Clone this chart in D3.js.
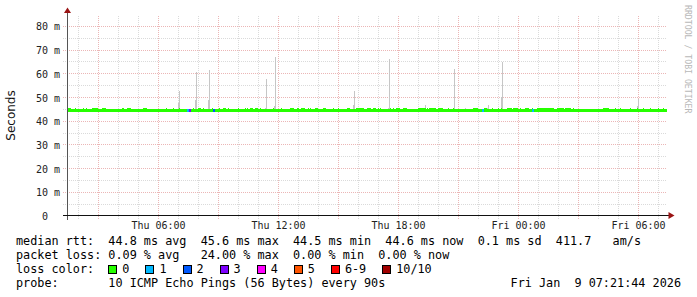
<!DOCTYPE html>
<meta charset="utf-8">
<script src="https://d3js.org/d3.v7.min.js"></script>
<style>
  body { margin: 0; background: #fff; }
  text { font-family: "DejaVu Sans Mono", monospace; white-space: pre; }
</style>
<div id="chart"></div>
<script>

// time is counted in hours from Thu 8 Jan 2026 00:00 (values above 24 are Friday)
var startHour = 1.45, endHour = 31.45, lastSample = 31.4;

// median rtt (ms), and the stretches where it sits one step higher
var medianBase = 44.6;
var medianUp = 45.0;
var upFrom = [1.45, 1.85, 2.25, 2.4, 2.7, 3.2, 4.2, 4.45, 5.25, 6.4, 6.75, 7.05, 7.75, 8.0, 8.25, 8.7, 9.05, 9.25, 9.5, 10.0,
  10.35, 10.45, 10.6, 10.85, 11.1, 11.75, 12.15, 12.6, 12.95, 13.15, 13.5, 13.6, 13.85, 14.25, 14.75, 15.0, 15.45, 15.9, 16.45, 16.75,
  17.0, 17.1, 17.6, 17.75, 17.9, 18.25, 19.0, 19.45, 19.55, 20.0, 20.5, 20.75, 21.75, 22.3, 22.7, 23.0, 23.15, 23.45, 23.75, 24.1,
  24.35, 24.7, 24.95, 25.95, 26.35, 26.75, 28.25, 28.85, 29.1, 29.6, 29.95, 30.25, 30.6, 31.0, 31.25];
var upTo = [1.6, 1.85, 2.25, 2.4, 2.95, 3.35, 4.25, 4.6, 5.4, 6.4, 6.75, 7.05, 7.75, 8.1, 8.25, 8.7, 9.05, 9.35, 9.5, 10.0,
  10.35, 10.45, 10.7, 10.95, 11.1, 11.75, 12.15, 12.75, 13.0, 13.3, 13.5, 13.6, 13.95, 14.35, 14.75, 15.0, 15.55, 16.25, 16.6, 16.85,
  17.0, 17.1, 17.6, 17.75, 18.05, 18.4, 19.35, 19.45, 19.85, 20.2, 20.5, 20.75, 21.95, 22.4, 22.7, 23.0, 23.15, 23.65, 23.95, 24.1,
  24.5, 24.7, 25.75, 26.25, 26.6, 26.75, 28.5, 28.85, 29.1, 29.6, 29.95, 30.25, 30.6, 31.0, 31.25];

// smoke spikes: time, slowest ping, top of the denser part (ms)
var spikeHour = [7.05, 7.9, 8.55, 11.4, 11.85, 15.8, 17.55, 19.35, 20.8, 21.35, 22.5, 23.2, 30.0];
var spikeMax  = [52.5, 60.5, 61.4, 57.6, 66.9, 52.5, 66.0, 46.6, 61.8, 45.3, 46.6, 64.8, 49.1];
var spikeLow  = [47.4, 48.7, 48.7, 45.5, 46.0, 46.6, 45.5, 45.5, 45.5, 45.0, 45.5, 50.0, 46.1];

// samples that lost packets
var lossHour  = [7.45, 7.55, 8.75, 22.2, 24.7];
var lossCount = [1, 3, 2, 1, 1];

var lossLabels = ["0", "1", "2", "3", "4", "5", "6-9", "10/10"];
var lossColors = ["#26ff00", "#00b8ff", "#0059ff", "#7e00ff", "#ff00ff", "#ff5500", "#ff0000", "#a10000"];

var yTicks = [0, 10, 20, 30, 40, 50, 60, 70, 80];

var legendLines = [
  "median rtt:  44.8 ms avg  45.6 ms max  44.5 ms min  44.6 ms now  0.1 ms sd  411.7   am/s",
  "packet loss: 0.09 % avg   24.00 % max  0.00 % min  0.00 % now",
  "loss color:",
  "probe:       10 ICMP Echo Pings (56 Bytes) every 90s"
];
var stamp = "Fri Jan  9 07:21:44 2026";

var W = 697, H = 297;
var plot = {left: 67, right: 667, top: 15.5, bottom: 215.5};

function hourDate(h) { return new Date(2026, 0, 8, 0, Math.round(h * 60)); }
function lossIndex(n) { return n <= 5 ? n : (n < 10 ? 6 : 7); }

var svg = d3.select("#chart").append("svg")
  .attr("width", W).attr("height", H)
  .style("display", "block");

svg.append("rect").attr("width", W).attr("height", H).attr("fill", "#fff");

var x = d3.scaleTime()
  .domain([hourDate(startHour), hourDate(endHour)])
  .range([plot.left, plot.right]);
var y = d3.scaleLinear()
  .domain([0, 84.4])
  .range([plot.bottom, plot.top]);

var px = function(h) { return Math.round(x(hourDate(h))); };
var py = function(v) { return Math.round(y(v)); };

// grid
var grid = svg.append("g").attr("shape-rendering", "crispEdges").attr("stroke-dasharray", "1,1");
var hourTicks = x.ticks(d3.timeHour.every(1));
grid.selectAll(".vg").data(hourTicks).enter().append("line")
  .attr("x1", function(d) { return Math.round(x(d)) + 0.5; })
  .attr("x2", function(d) { return Math.round(x(d)) + 0.5; })
  .attr("y1", plot.top).attr("y2", plot.bottom + 3)
  .attr("stroke", function(d) { return d.getHours() % 3 == 0 ? "#ebb6b6" : "#dadada"; });

var minorY = d3.range(5, 85, 5);
grid.selectAll(".hg").data(minorY).enter().append("line")
  .attr("x1", plot.left - 4).attr("x2", plot.right)
  .attr("y1", function(d) { return Math.round(y(d)) + 0.5; })
  .attr("y2", function(d) { return Math.round(y(d)) + 0.5; })
  .attr("stroke", function(d) { return d % 10 == 0 ? "#ebb6b6" : "#dadada"; });

// smoke
var smoke = svg.append("g").attr("shape-rendering", "crispEdges").attr("fill", "#c6c6c6");
spikeHour.forEach(function(h, i) {
  smoke.append("rect")
    .attr("x", px(h)).attr("width", 1)
    .attr("y", py(spikeMax[i])).attr("height", py(medianBase) - py(spikeMax[i]));
  smoke.append("rect")
    .attr("x", px(h) - 1).attr("width", 2)
    .attr("y", py(spikeLow[i])).attr("height", py(medianBase) - py(spikeLow[i]));
});

// median line, coloured by loss
var med = svg.append("g").attr("shape-rendering", "crispEdges");
med.append("rect")
  .attr("x", px(startHour)).attr("width", px(lastSample) - px(startHour) + 1)
  .attr("y", py(medianBase) - 1).attr("height", 3)
  .attr("fill", lossColors[0]);
upFrom.forEach(function(h, i) {
  med.append("rect")
    .attr("x", px(h)).attr("width", px(upTo[i]) - px(h) + 1)
    .attr("y", py(medianUp) - 1).attr("height", 3)
    .attr("fill", lossColors[0]);
});
lossHour.forEach(function(h, i) {
  med.append("rect")
    .attr("x", px(h)).attr("width", 2)
    .attr("y", py(medianBase) - 1).attr("height", 3)
    .attr("fill", lossColors[lossIndex(lossCount[i])]);
});

// axes
var axes = svg.append("g").attr("shape-rendering", "crispEdges");
axes.append("line").attr("x1", plot.left + 0.5).attr("x2", plot.left + 0.5)
  .attr("y1", plot.bottom + 4).attr("y2", 12).attr("stroke", "#555");
axes.append("line").attr("x1", plot.left - 4).attr("x2", 670)
  .attr("y1", plot.bottom).attr("y2", plot.bottom).attr("stroke", "#111");
svg.append("path").attr("d", "M64,13L67.5,7.5L71,13Z").attr("fill", "#9a1414");
svg.append("path").attr("d", "M668.5,212L674.5,215.5L668.5,219Z").attr("fill", "#9a1414");

// tick labels
svg.selectAll(".yl").data(yTicks).enter().append("text")
  .attr("x", 60).attr("y", function(d) { return y(d) + 4.5; })
  .attr("text-anchor", "end").attr("font-size", "10px").attr("fill", "#222")
  .text(function(d) { return d == 0 ? "0  " : d + " m"; });

var fmt = d3.timeFormat("%a %H:%M");
svg.selectAll(".xl").data(x.ticks(d3.timeHour.every(6))).enter().append("text")
  .attr("x", function(d) { return Math.round(x(d)) + 0.5; }).attr("y", 228.5)
  .attr("text-anchor", "middle").attr("font-size", "10px").attr("fill", "#222")
  .text(function(d) { return fmt(d); });

// titles
svg.append("text")
  .attr("transform", "translate(15," + ((plot.top + plot.bottom) / 2) + ") rotate(-90)")
  .attr("text-anchor", "middle")
  .style("font-family", "'DejaVu Sans', sans-serif").attr("font-size", "12px").attr("fill", "#111")
  .text("Seconds");
svg.append("text")
  .attr("transform", "translate(685,5) rotate(90)")
  .attr("font-size", "8.2px").attr("fill", "#b8b8b8")
  .text("RRDTOOL / TOBI OETIKER");

// legend
var cw = 7.1, fs = "11.8px";
svg.selectAll(".lg").data(legendLines).enter().append("text")
  .attr("x", 16).attr("y", function(d, i) { return 245 + i * 14; })
  .attr("font-size", fs).attr("fill", "#000")
  .text(function(d) { return d; });
svg.append("text").attr("x", 681).attr("y", 287).attr("text-anchor", "end")
  .attr("font-size", fs).attr("fill", "#000").text(stamp);

var lx = 16 + 13 * cw;
lossLabels.forEach(function(lab, i) {
  svg.append("rect").attr("x", Math.round(lx) + 0.5).attr("y", 265.5).attr("width", 8).attr("height", 8)
    .attr("fill", lossColors[i]).attr("stroke", "#000").attr("shape-rendering", "crispEdges");
  svg.append("text").attr("x", lx + 14).attr("y", 273)
    .attr("font-size", fs).attr("fill", "#000").text(lab);
  lx = lx + 14 + lab.length * cw + 16;
});

</script>
